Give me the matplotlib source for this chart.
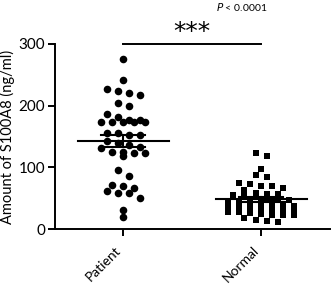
import numpy as np
import matplotlib
matplotlib.use("Agg")
import matplotlib.pyplot as plt

plt.rcParams['font.family'] = ['Lato', 'DejaVu Sans']

groups = ['Patient', 'Normal']
patient = [275, 242, 227, 220, 223, 217, 205, 199, 186, 182, 176, 173, 173, 173,
           173, 173, 176, 156, 152, 152, 156, 142, 139, 136, 133, 131, 125, 124,
           118, 124, 125, 96, 86, 70, 72, 61, 58, 59, 66, 51, 31, 19]
normal = [124, 118, 98, 88, 84, 74, 73, 69, 69, 66, 64,
          58, 56, 55, 57, 54, 52,
          50, 48, 47, 46, 45, 44, 43, 42,
          40, 38, 37, 36, 35, 34, 33, 32,
          30, 28, 27, 26, 25, 23, 22, 22,
          18, 15, 13, 11]
yticks = [0, 100, 200, 300]
p_text = '< 0.0001'


def swarm(vals, binw, step, maxn=8):
    v = np.sort(np.array(vals, dtype=float))[::-1]
    xs, ys = [], []
    i = 0
    while i < len(v):
        j = i
        while j < len(v) and v[i] - v[j] <= binw and j - i < maxn:
            j += 1
        n = j - i
        for k in range(n):
            xs.append((k - (n - 1) / 2) * step)
            ys.append(v[i + k])
        i = j
    return np.array(xs), np.array(ys)


fig = plt.figure(figsize=(3.32, 2.87), dpi=100)
ax = fig.add_axes([0.166, 0.202, 0.828, 0.645])

for pos, data, mk, sz in [(0, patient, 'o', 30), (1, normal, 's', 25)]:
    dx, dy = swarm(data, 10 if mk == 'o' else 8, 0.08)
    ax.scatter(pos + dx, dy, marker=mk, s=sz, color='black', linewidths=0,
               clip_on=False, zorder=3)
    m = np.mean(data)
    sem = np.std(data, ddof=1) / np.sqrt(len(data))
    ax.plot([pos - 0.33, pos + 0.33], [m, m], color='black', lw=1.5, zorder=4)
    ax.plot([pos - 0.16, pos + 0.16], [m + sem, m + sem], color='black', lw=1.5, zorder=4)
    ax.plot([pos - 0.16, pos + 0.16], [m - sem, m - sem], color='black', lw=1.5, zorder=4)
    ax.plot([pos, pos], [m - sem, m + sem], color='black', lw=1.5, zorder=4)

ax.set_xlim(-0.493, 1.5)
ax.set_ylim(0, 300)
ax.set_yticks(yticks)
ax.set_xticks([0, 1])
ax.set_xticklabels(groups, rotation=45, ha='right', fontsize=10)
ax.tick_params(axis='y', labelsize=11, length=5, width=1.4, pad=2)
ax.tick_params(axis='x', length=5, width=1.4, pad=6)
for s in ['top', 'right']:
    ax.spines[s].set_visible(False)
for s in ['left', 'bottom']:
    ax.spines[s].set_linewidth(1.4)
ax.set_ylabel('Amount of S100A8 (ng/ml)', fontsize=10.5, labelpad=3)

ax.plot([0, 1], [300, 300], color='black', lw=1.4, clip_on=False)
ax.text(0.5, 320, '***', ha='center', va='center', fontsize=18,
        family='DejaVu Sans', clip_on=False)
ax.text(0.86, 360, '$P$ ' + p_text, ha='center', va='center', fontsize=7.5)

fig.savefig('out.png', dpi=100)
